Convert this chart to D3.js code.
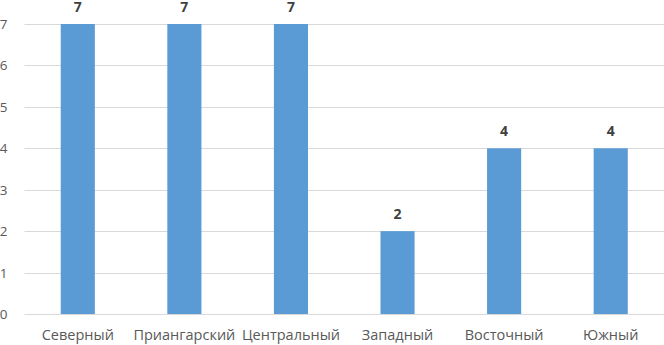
<!DOCTYPE html>
<html>
<head>
<meta charset="utf-8">
<script src="https://cdn.jsdelivr.net/npm/d3@7"></script>
<style>
  body { margin: 0; background: #fff; }
  text { font-family: "Open Sans", "Liberation Sans", sans-serif; }
</style>
</head>
<body>
<div id="chart"></div>
<script>
const categories = ['Северный', 'Приангарский', 'Центральный', 'Западный', 'Восточный', 'Южный'];
const values = [7, 7, 7, 2, 4, 4];
const yTicks = [0, 1, 2, 3, 4, 5, 6, 7];

const width = 664,
  height = 345,
  margin = { top: 24, right: 0, bottom: 31, left: 24.5 };

const svg = d3.select('div#chart').append('svg')
  .attr('width', width)
  .attr('height', height);

const xScale = d3.scaleBand()
  .domain(categories)
  .range([margin.left, width - margin.right])
  .paddingInner(0.68)
  .paddingOuter(0.34);

const yScale = d3.scaleLinear()
  .domain([0, 7])
  .range([height - margin.bottom, margin.top]);

// gridlines
svg.append('g')
  .selectAll('line')
  .data(yTicks)
  .join('line')
  .attr('x1', margin.left)
  .attr('x2', width - margin.right)
  .attr('y1', d => Math.round(yScale(d)) + 0.5)
  .attr('y2', d => Math.round(yScale(d)) + 0.5)
  .attr('stroke', '#d9d9d9')
  .attr('stroke-width', 1);

// y tick labels
svg.append('g')
  .selectAll('text')
  .data(yTicks)
  .join('text')
  .attr('x', 7.5)
  .attr('y', d => yScale(d) + 5)
  .attr('text-anchor', 'end')
  .attr('font-size', 13.5)
  .attr('fill', '#595959')
  .text(d => d);

// bars
svg.append('g')
  .selectAll('rect')
  .data(values)
  .join('rect')
  .attr('x', (d, i) => xScale(categories[i]))
  .attr('y', d => yScale(d))
  .attr('width', xScale.bandwidth())
  .attr('height', d => yScale(0) - yScale(d))
  .attr('fill', '#5b9bd5');

// value labels
svg.append('g')
  .selectAll('text')
  .data(values)
  .join('text')
  .attr('x', (d, i) => xScale(categories[i]) + xScale.bandwidth() / 2)
  .attr('y', d => yScale(d) - 12.5)
  .attr('text-anchor', 'middle')
  .attr('font-size', 14)
  .attr('font-weight', 'bold')
  .attr('fill', '#404040')
  .text(d => d);

// category labels
svg.append('g')
  .selectAll('text')
  .data(categories)
  .join('text')
  .attr('x', d => xScale(d) + xScale.bandwidth() / 2)
  .attr('y', height - 5)
  .attr('text-anchor', 'middle')
  .attr('font-size', 14.5)
  .attr('fill', '#595959')
  .text(d => d);
</script>
</body>
</html>
